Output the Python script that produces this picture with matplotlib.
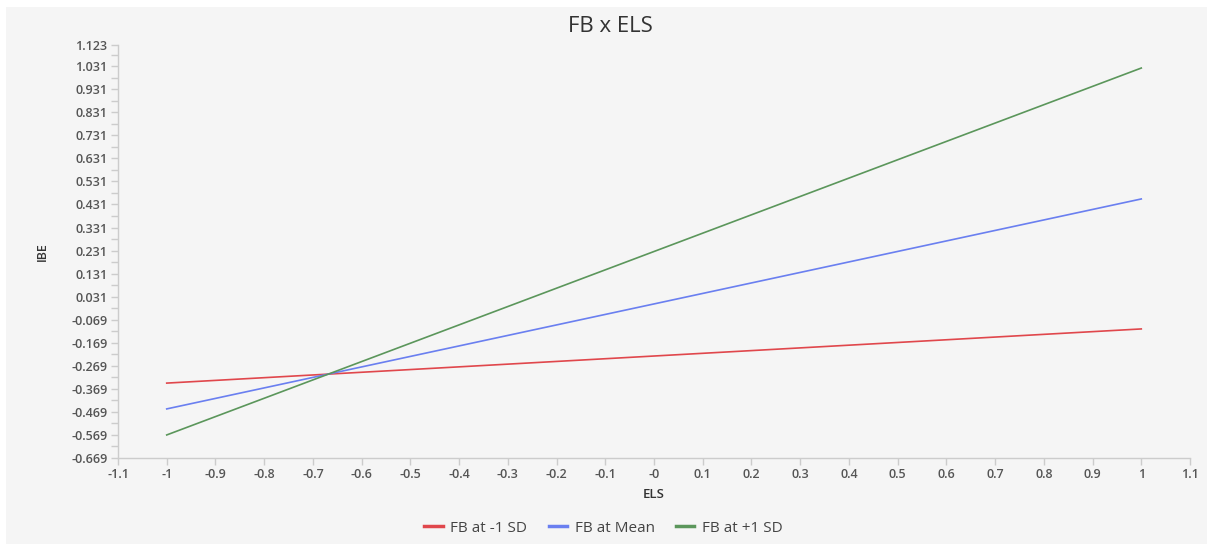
import numpy as np
from matplotlib import pyplot as plt
from matplotlib.patches import Rectangle

# Simple slopes (ELS = -1 and +1)
els = [-1, 1]
fb_low = [-0.344, -0.109]
fb_mean = [-0.456, 0.455]
fb_high = [-0.569, 1.023]

series_names = ['FB at -1 SD', 'FB at Mean', 'FB at +1 SD']
series_colors = ['#e0474c', '#6a7ff0', '#5b965b']

x_ticks = [-1.1, -1, -0.9, -0.8, -0.7, -0.6, -0.5, -0.4, -0.3, -0.2, -0.1,
           0, 0.1, 0.2, 0.3, 0.4, 0.5, 0.6, 0.7, 0.8, 0.9, 1, 1.1]
x_labels = ['-1.1', '-1', '-0.9', '-0.8', '-0.7', '-0.6', '-0.5', '-0.4', '-0.3', '-0.2', '-0.1',
            '-0', '0.1', '0.2', '0.3', '0.4', '0.5', '0.6', '0.7', '0.8', '0.9', '1', '1.1']
y_ticks = [-0.669, -0.569, -0.469, -0.369, -0.269, -0.169, -0.069, 0.031, 0.131,
           0.231, 0.331, 0.431, 0.531, 0.631, 0.731, 0.831, 0.931, 1.031, 1.123]
y_minor = [-0.619, -0.519, -0.419, -0.319, -0.219, -0.119, -0.019, 0.081, 0.181,
           0.281, 0.381, 0.481, 0.581, 0.681, 0.781, 0.881, 0.981, 1.081]

plt.rcParams['font.family'] = ['Open Sans', 'DejaVu Sans']

bg = '#f5f5f5'
fig = plt.figure(figsize=(12.07, 5.44), dpi=100)
fig.patch.set_facecolor('white')
fig.patches.append(Rectangle((6 / 1207, 0), 1 - 6 / 1207, 1 - 7 / 544,
                             transform=fig.transFigure, facecolor=bg,
                             edgecolor='none', zorder=-10))

ax = fig.add_axes([118 / 1207, 86 / 544, (1190 - 118) / 1207, (458 - 45) / 544])
ax.set_facecolor(bg)

for ys, name, col in zip([fb_low, fb_mean, fb_high], series_names, series_colors):
    ax.plot(els, ys, color=col, linewidth=1.2, label=name)

ax.set_xlim(-1.1, 1.1)
ax.set_ylim(-0.669, 1.123)
ax.set_xticks(x_ticks)
ax.set_xticklabels(x_labels)
ax.set_yticks(y_ticks)
ax.set_yticklabels(['%.3f' % v for v in y_ticks])
ax.set_yticks(y_minor, minor=True)

for s in ['top', 'right']:
    ax.spines[s].set_visible(False)
for s in ['left', 'bottom']:
    ax.spines[s].set_color('#cccccc')
    ax.spines[s].set_linewidth(1)

ax.tick_params(axis='both', which='both', colors='#cccccc', length=5, width=1,
               labelcolor='#555555', labelsize=9, pad=2.5)
ax.tick_params(axis='y', which='minor', length=5)
for lab in ax.get_xticklabels() + ax.get_yticklabels():
    lab.set_fontweight('semibold')

fig.text(610 / 1207, 1 - 26 / 544, 'FB x ELS', fontsize=16, color='#333333',
         ha='center', va='center')
ax.set_xlabel('ELS', fontsize=9.5, color='#333333', fontweight='semibold', labelpad=5)
ax.set_ylabel('IBE', fontsize=9, color='#333333', fontweight='semibold', labelpad=16)

leg = fig.legend(loc='center', bbox_to_anchor=(0.5, 16 / 544), ncol=3, frameon=False,
                 fontsize=11, handlelength=1.2, handletextpad=0.5, columnspacing=1.4,
                 labelcolor='#444444')
for line in leg.get_lines():
    line.set_linewidth(2.5)

fig.savefig('out.png', dpi=100, facecolor=fig.get_facecolor())
